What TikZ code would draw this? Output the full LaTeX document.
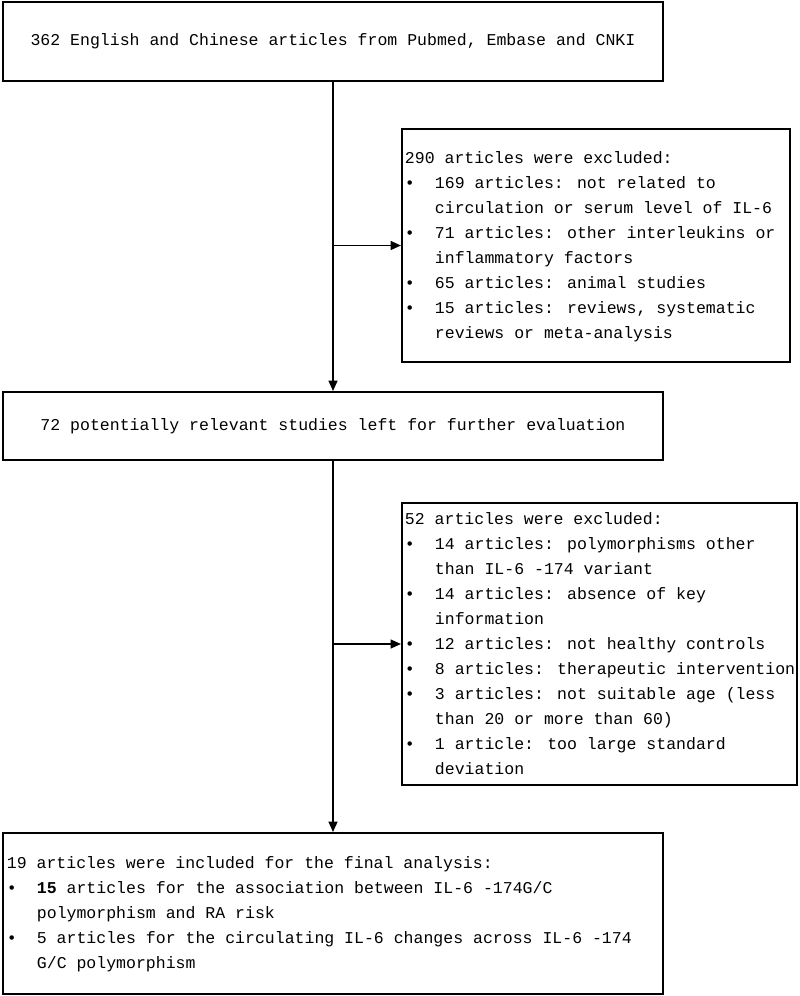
\documentclass[tikz,border=0pt]{standalone}
\usepackage{fontspec}
\setmainfont{Liberation Mono}
\usetikzlibrary{arrows.meta,positioning}

\begin{document}
\begin{tikzpicture}[
  x=0.025cm, y=-0.025cm,
  font=\fontsize{11.75pt}{17.78pt}\selectfont,
  box/.style={rectangle, draw, line width=1.3pt, inner sep=0pt},
  main/.style={box, minimum width=16.5cm},
  excl/.style={box, align=justify, inner xsep=0.075cm},
  arr/.style={-{Triangle[length=2.6mm,width=2.2mm]}, line width=1.3pt}
]
  \useasboundingbox (0,0) rectangle (800,996);

  \node[main, minimum height=1.975cm] (src) at (333,41.5)
    {362 English and Chinese articles from Pubmed, Embase and CNKI};
  \node[excl, text width=9.55cm, minimum height=5.825cm] (excl1) at (596,245.5)
    {\noindent\begin{tabular}{@{}p{0.75cm}@{}l@{}}
      \multicolumn{2}{@{}l@{}}{290 articles were excluded:}\\
      \textbullet & 169 articles: not related to\\
                  & circulation or serum level of IL-6\\
      \textbullet & 71 articles: other interleukins or\\
                  & inflammatory factors\\
      \textbullet & 65 articles: animal studies\\
      \textbullet & 15 articles: reviews, systematic\\
                  & reviews or meta-analysis
    \end{tabular}};
  \node[main, minimum height=1.7cm] (left) at (333,426)
    {72 potentially relevant studies left for further evaluation};
  \node[excl, text width=9.725cm, minimum height=7.05cm] (excl2) at (599.5,644)
    {\noindent\begin{tabular}{@{}p{0.75cm}@{}l@{}}
      \multicolumn{2}{@{}l@{}}{52 articles were excluded:}\\
      \textbullet & 14 articles: polymorphisms other\\
                  & than IL-6 -174 variant\\
      \textbullet & 14 articles: absence of key\\
                  & information\\
      \textbullet & 12 articles: not healthy controls\\
      \textbullet & 8 articles: therapeutic intervention\\
      \textbullet & 3 articles: not suitable age (less\\
                  & than 20 or more than 60)\\
      \textbullet & 1 article: too large standard\\
                  & deviation
    \end{tabular}};
  \node[excl, inner xsep=0.1cm, text width=16.3cm, minimum height=4.025cm] (incl) at (333,913.5)
    {\noindent\begin{tabular}{@{}p{0.75cm}@{}l@{}}
      \multicolumn{2}{@{}l@{}}{19 articles were included for the final analysis:}\\
      \textbullet & \textbf{15} articles for the association between IL-6 -174G/C\\
                  & polymorphism and RA risk\\
      \textbullet & 5 articles for the circulating IL-6 changes across IL-6 -174\\
                  & G/C polymorphism
    \end{tabular}};

  \draw[arr] (src) -- (left);
  \draw[arr] (src.south |- excl1.west) -- (excl1.west);
  \draw[arr] (left) -- (incl);
  \draw[arr] (left.south |- excl2.west) -- (excl2.west);
\end{tikzpicture}
\end{document}
